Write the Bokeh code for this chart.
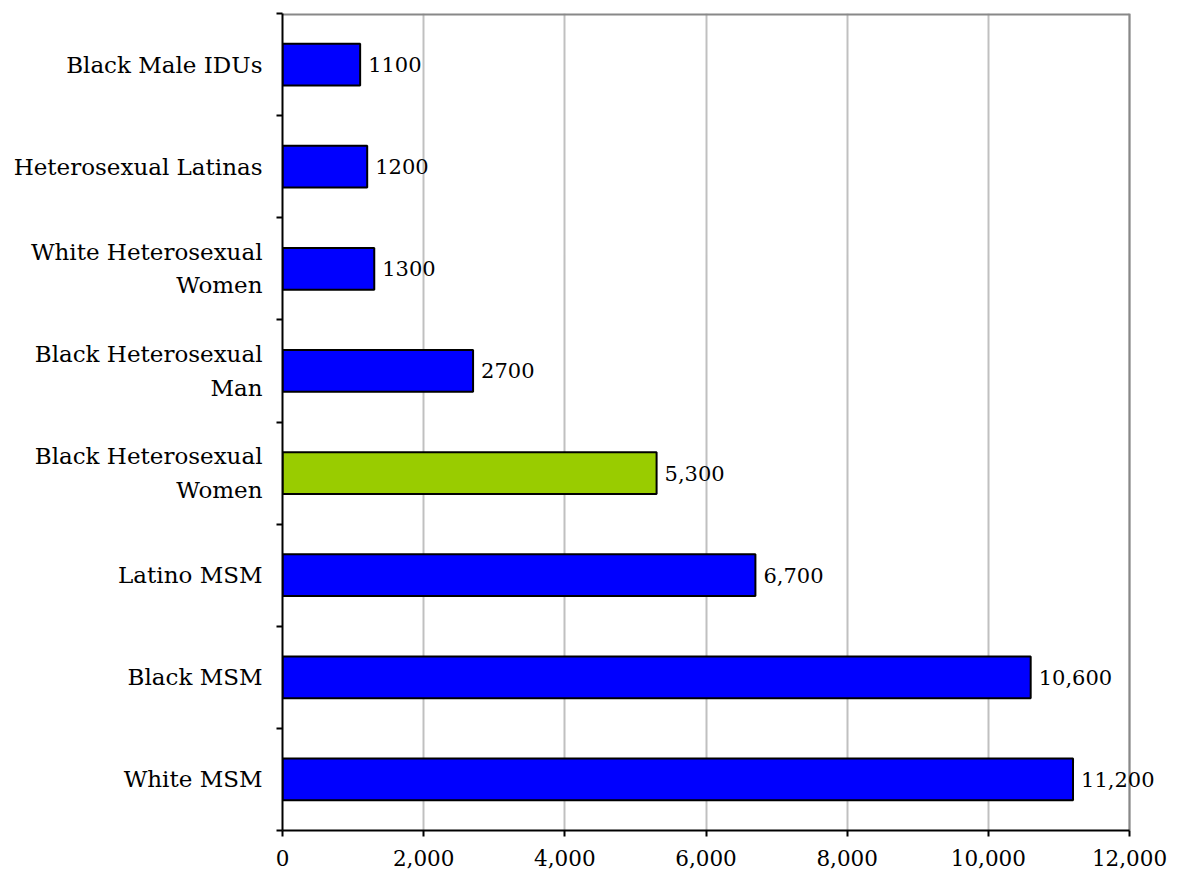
from bokeh.plotting import figure
from bokeh.models import ColumnDataSource, FixedTicker, NumeralTickFormatter, Range1d, LabelSet
from bokeh.embed import file_html
from bokeh.resources import INLINE
from bokeh.core.properties import value

categories = ["Black Male IDUs", "Heterosexual Latinas", "White Heterosexual\nWomen",
              "Black Heterosexual\nMan", "Black Heterosexual\nWomen", "Latino MSM",
              "Black MSM", "White MSM"]
values = [1100, 1200, 1300, 2700, 5300, 6700, 10600, 11200]
value_labels = ["1100", "1200", "1300", "2700", "5,300", "6,700", "10,600", "11,200"]
highlight = "Black Heterosexual\nWomen"
x_ticks = [0, 2000, 4000, 6000, 8000, 10000, 12000]
x_max = 12000

n = len(categories)
ypos = [n - i - 0.5 for i in range(n)]
colors = ["#99CC00" if c == highlight else "#0000FF" for c in categories]

src = ColumnDataSource(dict(y=ypos, v=values, lab=value_labels, color=colors))

FONT = "DejaVu Serif"

W, H = 1172, 874
LEFT, TOP, BOTTOM = 282, 13, 44
PLOT_W = 847  # pixel width of 0..x_max
x_end = x_max * (W - LEFT) / PLOT_W

p = figure(width=W, height=H, x_range=Range1d(0, x_end), y_range=Range1d(0, n),
           output_backend="svg", toolbar_location=None,
           min_border_left=LEFT, min_border_right=0, min_border_top=TOP,
           min_border_bottom=BOTTOM)

# grid
p.xgrid.ticker = FixedTicker(ticks=x_ticks)
p.xgrid.grid_line_color = "#C0C0C0"
p.xgrid.grid_line_width = 2
p.ygrid.visible = False

# plot-area border (top and right)
p.segment(x0=[0, x_max], y0=[n, 0], x1=[x_max, x_max], y1=[n, n],
          line_color="#888888", line_width=[4, 2])

p.hbar(y="y", right="v", left=0, height=0.41, fill_color="color",
       line_color="black", line_width=2, source=src)

labels = LabelSet(x="v", y="y", text="lab", x_offset=8, y_offset=0, source=src,
                  text_baseline="middle", text_align="left",
                  text_font=value(FONT), text_font_size=value("21px"),
                  text_color="black")
p.add_layout(labels)

# x axis
p.xaxis.bounds = (0, x_max)
p.xaxis.ticker = FixedTicker(ticks=x_ticks, minor_ticks=[])
p.xaxis.formatter = NumeralTickFormatter(format="0,0")
p.xaxis.major_tick_out = 6
p.xaxis.major_tick_in = 0
p.xaxis.minor_tick_out = 0
p.xaxis.axis_line_width = 2
p.xaxis.axis_line_color = "black"
p.xaxis.major_tick_line_width = 2
p.xaxis.major_tick_line_color = "black"
p.xaxis.major_label_standoff = 13
p.xaxis.major_label_text_font = FONT
p.xaxis.major_label_text_font_size = "21.5px"
p.xaxis.major_label_text_color = "black"

# y axis
p.yaxis.ticker = FixedTicker(ticks=ypos, minor_ticks=list(range(n + 1)))
p.yaxis.major_label_overrides = {y: c for y, c in zip(ypos, categories)}
p.yaxis.major_tick_out = 0
p.yaxis.major_tick_in = 0
p.yaxis.minor_tick_out = 6
p.yaxis.minor_tick_in = 0
p.yaxis.minor_tick_line_width = 2
p.yaxis.minor_tick_line_color = "black"
p.yaxis.axis_line_width = 2
p.yaxis.axis_line_color = "black"
p.yaxis.major_label_standoff = 14
p.yaxis.major_label_text_font = FONT
p.yaxis.major_label_text_font_size = "23px"
p.yaxis.major_label_text_color = "black"
p.yaxis.major_label_text_line_height = 1.28

p.outline_line_color = None
p.background_fill_color = "white"
p.border_fill_color = "white"

open("out.html", "w").write(file_html(p, INLINE))
